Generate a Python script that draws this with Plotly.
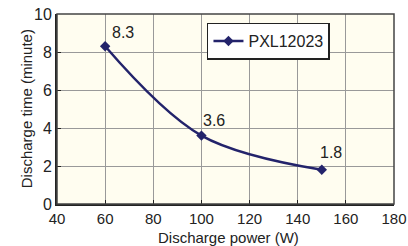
import plotly.graph_objects as go

power = [60, 100, 150]
minutes = [8.3, 3.6, 1.8]
labels = ["8.3", "3.6", "1.8"]
series_name = "PXL12023"
x_title = "Discharge power (W)"
y_title = "Discharge time (minute)"

# label placement offsets (pixels) relative to each point
label_dx = [18, 13, 9]
label_dy = [14, 15, 17]

navy = "#23236b"
FONT = "Liberation Sans, Arial"
fig = go.Figure()
fig.add_trace(go.Scatter(
    x=power, y=minutes, mode="lines+markers", name=series_name,
    line=dict(color=navy, width=2.5, shape="spline", smoothing=1),
    marker=dict(symbol="diamond", size=8, color=navy),
))
annotations = [
    dict(text=t, x=xv, y=yv, xref="x", yref="y", showarrow=False,
         xanchor="center", yanchor="middle", xshift=dx, yshift=dy,
         font=dict(size=16, color="#222"))
    for t, xv, yv, dx, dy in zip(labels, power, minutes, label_dx, label_dy)
]
annotations += [
    dict(text=x_title, xref="paper", yref="paper", x=0.51, y=-0.23,
         xanchor="center", yanchor="bottom", showarrow=False, font=dict(size=15)),
    dict(text=y_title, xref="paper", yref="paper", x=-0.06, y=0.5,
         xanchor="right", yanchor="middle", textangle=-90, showarrow=False,
         font=dict(size=15)),
]
fig.update_layout(
    width=408, height=246,
    margin=dict(l=57, r=14, t=14, b=42, autoexpand=False),
    paper_bgcolor="white", plot_bgcolor="#fffdf0",
    font=dict(family=FONT, size=16, color="#222"),
    showlegend=True,
    legend=dict(x=0.445, y=0.955, xanchor="left", yanchor="top",
                bgcolor="white", bordercolor="#222", borderwidth=1.5,
                font=dict(size=16), itemwidth=30, tracegroupgap=0,
                valign="middle"),
    xaxis=dict(range=[40, 180], dtick=20, showgrid=True, gridcolor="#999",
               gridwidth=1, ticks="inside", ticklen=4, tickcolor="#222",
               tickfont=dict(size=15), automargin=False,
               showline=True, linecolor="#222", linewidth=2, mirror=False,
               zeroline=False),
    yaxis=dict(range=[0, 10], dtick=2, showgrid=True, gridcolor="#999",
               gridwidth=1, ticks="inside", ticklen=4, tickcolor="#222",
               tickfont=dict(size=16), automargin=False,
               showline=True, linecolor="#222", linewidth=2,
               zeroline=False),
    annotations=annotations,
)
fig.add_shape(type="rect", xref="paper", yref="paper", x0=0, y0=0, x1=1, y1=1,
              line=dict(color="#444", width=1.5), layer="above")
fig.write_html("out.html", config={"displayModeBar": False},
               post_script="document.body.style.margin='0';document.body.style.padding='0';")
